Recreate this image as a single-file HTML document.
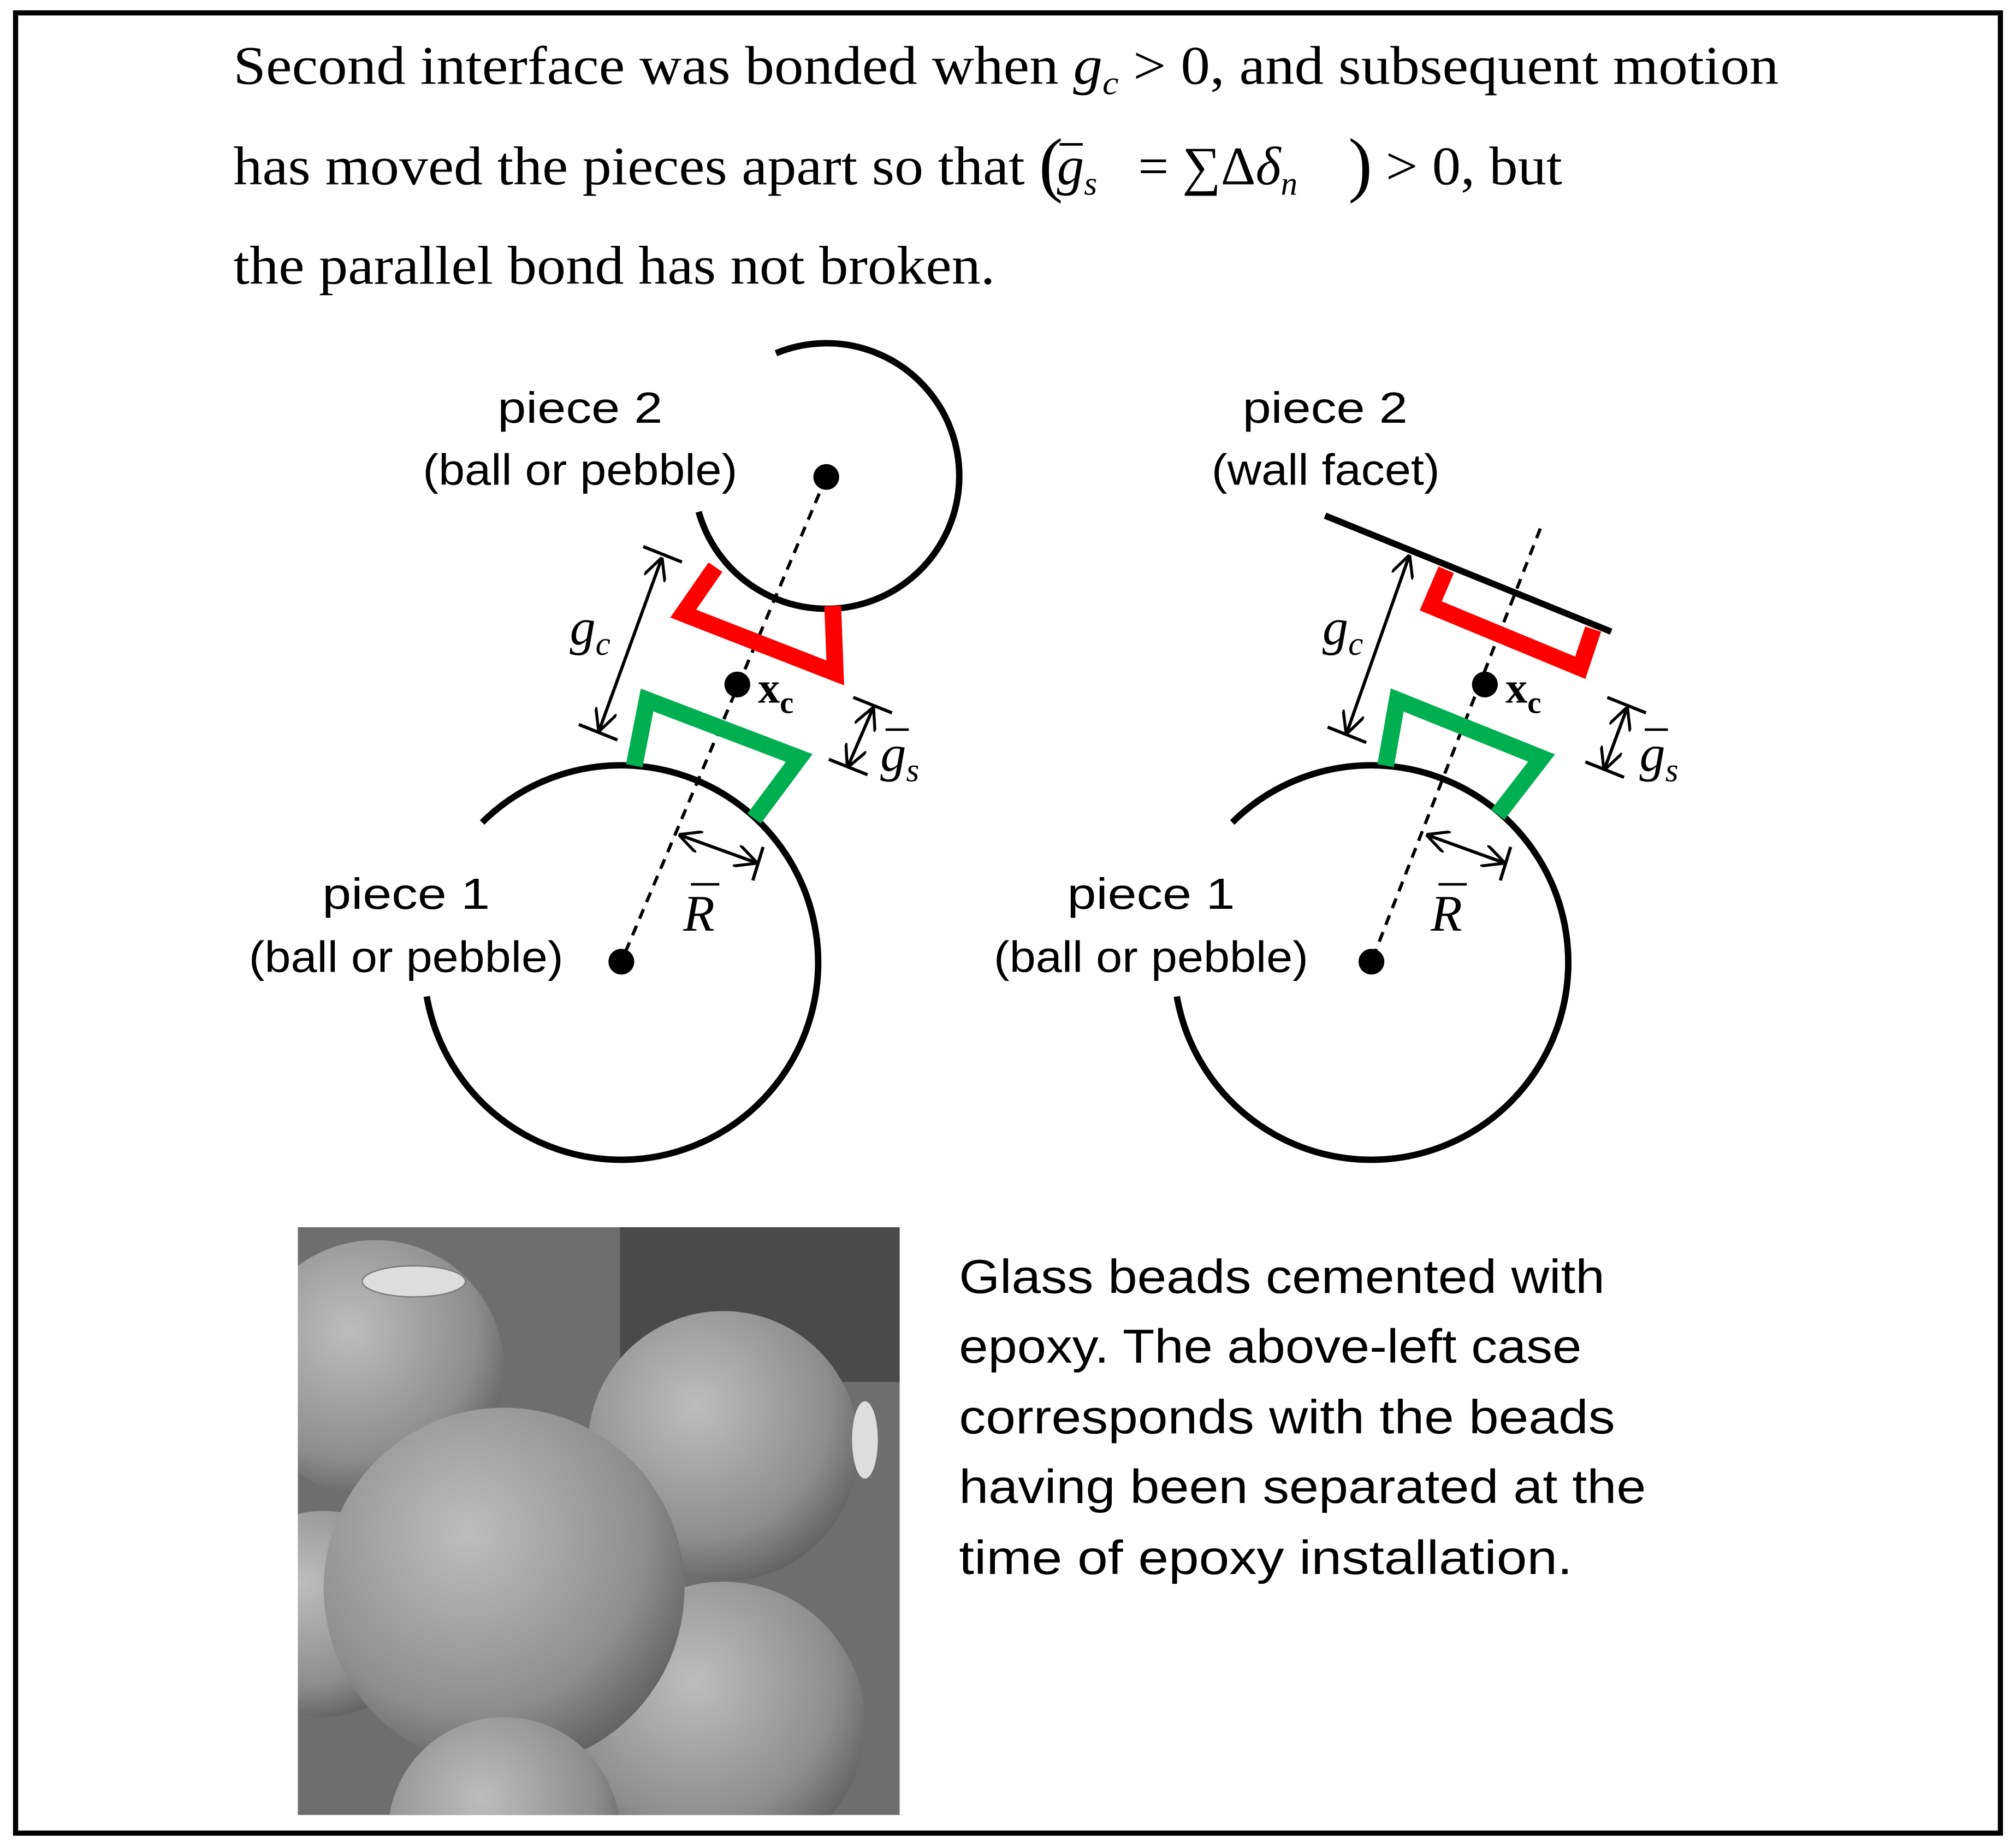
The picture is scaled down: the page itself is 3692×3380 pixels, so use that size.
<!DOCTYPE html>
<html><head><meta charset="utf-8"><style>
html,body{margin:0;padding:0;background:#fff;width:3692px;height:3380px;overflow:hidden;}
svg{display:block;}
.s{font-family:"Liberation Sans",sans-serif;}
.r{font-family:"Liberation Serif",serif;}
</style></head><body>
<svg width="3692" height="3380" viewBox="0 0 1564 1432" xmlns="http://www.w3.org/2000/svg">
<defs>
<marker id="a" viewBox="0 0 10 10" refX="9" refY="5" markerWidth="7" markerHeight="7" orient="auto-start-reverse"><path d="M0,0 L10,5 L0,10" fill="none" stroke="#000" stroke-width="1.3"/></marker>
<radialGradient id="b" cx="0.4" cy="0.35" r="0.7"><stop offset="0" stop-color="#bdbdbd"/><stop offset="0.7" stop-color="#8e8e8e"/><stop offset="1" stop-color="#5e5e5e"/></radialGradient>
</defs>
<rect x="12" y="10" width="1540" height="1412" fill="#fff" stroke="#000" stroke-width="4"/>
<g class="r" font-size="42" fill="#000">
<text x="181" y="65" textLength="1199" lengthAdjust="spacingAndGlyphs">Second interface was bonded when <tspan font-style="italic">g</tspan><tspan font-style="italic" font-size="26" dy="8">c</tspan><tspan dy="-8"> &gt; 0,  and subsequent motion</tspan></text>
<text x="181" y="143" textLength="614" lengthAdjust="spacingAndGlyphs">has moved the pieces apart so that</text>
<text x="806" y="146" font-size="56">(</text>
<text x="820" y="143" font-style="italic">g<tspan font-size="26" dy="8">s</tspan></text>
<text x="883" y="143">= ∑Δ<tspan font-style="italic">δ</tspan><tspan font-style="italic" font-size="26" dy="8">n</tspan></text>
<text x="1046" y="146" font-size="56">)</text>
<text x="1075" y="143" textLength="137" lengthAdjust="spacingAndGlyphs">&gt; 0, but</text>
<text x="181" y="220" textLength="591" lengthAdjust="spacingAndGlyphs">the parallel bond has not broken.</text>
</g>
<line x1="822" y1="112" x2="840" y2="112" stroke="#000" stroke-width="2"/>
<!-- left diagram -->
<g fill="none" stroke="#000" stroke-width="5">
<path d="M 602 274 A 103 103 0 1 1 542 397"/>
<path d="M 331 773 A 153 153 0 1 0 374 638"/>
</g>
<line x1="641" y1="370" x2="482" y2="746" stroke="#000" stroke-width="2.5" stroke-dasharray="8,6"/>
<polyline points="555,440 530,476 648,522 646,470" fill="none" stroke="#ff0000" stroke-width="13"/>
<polyline points="492,594 502,543 620,588 585,635" fill="none" stroke="#00b050" stroke-width="13"/>
<circle cx="641" cy="370" r="10"/><circle cx="482" cy="746" r="10"/><circle cx="572" cy="531" r="10"/>
<g stroke="#000" stroke-width="2.5">
<line x1="513" y1="434" x2="465" y2="566" marker-start="url(#a)" marker-end="url(#a)"/>
<line x1="499" y1="424" x2="529" y2="436"/><line x1="449" y1="562" x2="479" y2="574"/>
<line x1="677" y1="550" x2="658" y2="594" marker-start="url(#a)" marker-end="url(#a)"/>
<line x1="662" y1="541" x2="692" y2="553"/><line x1="643" y1="589" x2="673" y2="601"/>
<line x1="528" y1="648" x2="586" y2="669" marker-start="url(#a)" marker-end="url(#a)"/>
<line x1="592" y1="657" x2="584" y2="683"/>
</g>
<g class="r" font-size="40" font-style="italic">
<text x="442" y="500">g<tspan font-size="26" dy="8">c</tspan></text>
<text x="683" y="598">g<tspan font-size="26" dy="8">s</tspan></text>
<text x="530" y="722">R</text>
</g>
<line x1="687" y1="566" x2="705" y2="566" stroke="#000" stroke-width="2"/>
<line x1="536" y1="686" x2="558" y2="686" stroke="#000" stroke-width="2"/>
<text class="r" x="588" y="545" font-size="34" font-weight="bold">x<tspan font-size="24" dy="8">c</tspan></text>
<g class="s" font-size="34">
<text x="386" y="328" textLength="128" lengthAdjust="spacingAndGlyphs">piece 2</text>
<text x="328" y="376" textLength="244" lengthAdjust="spacingAndGlyphs">(ball or pebble)</text>
<text x="250" y="705" textLength="130" lengthAdjust="spacingAndGlyphs">piece 1</text>
<text x="193" y="754" textLength="244" lengthAdjust="spacingAndGlyphs">(ball or pebble)</text>
</g>
<!-- right diagram -->
<g fill="none" stroke="#000" stroke-width="5">
<path d="M 913 773 A 153 153 0 1 0 956 638"/>
<line x1="1028" y1="400" x2="1250" y2="490"/>
</g>
<line x1="1195" y1="410" x2="1064" y2="746" stroke="#000" stroke-width="2.5" stroke-dasharray="8,6"/>
<polyline points="1122,442 1110,470 1226,518 1236,488" fill="none" stroke="#ff0000" stroke-width="13"/>
<polyline points="1075,594 1084,543 1196,588 1162,632" fill="none" stroke="#00b050" stroke-width="13"/>
<circle cx="1064" cy="746" r="10"/><circle cx="1152" cy="531" r="10"/>
<g stroke="#000" stroke-width="2.5">
<line x1="1093" y1="432" x2="1045" y2="568" marker-start="url(#a)" marker-end="url(#a)"/>
<line x1="1030" y1="564" x2="1060" y2="576"/>
<line x1="1262" y1="550" x2="1245" y2="596" marker-start="url(#a)" marker-end="url(#a)"/>
<line x1="1247" y1="541" x2="1277" y2="553"/><line x1="1230" y1="591" x2="1260" y2="603"/>
<line x1="1108" y1="648" x2="1166" y2="669" marker-start="url(#a)" marker-end="url(#a)"/>
<line x1="1172" y1="657" x2="1164" y2="683"/>
</g>
<g class="r" font-size="40" font-style="italic">
<text x="1026" y="500">g<tspan font-size="26" dy="8">c</tspan></text>
<text x="1272" y="598">g<tspan font-size="26" dy="8">s</tspan></text>
<text x="1110" y="722">R</text>
</g>
<line x1="1276" y1="566" x2="1294" y2="566" stroke="#000" stroke-width="2"/>
<line x1="1116" y1="686" x2="1138" y2="686" stroke="#000" stroke-width="2"/>
<text class="r" x="1168" y="545" font-size="34" font-weight="bold">x<tspan font-size="24" dy="8">c</tspan></text>
<g class="s" font-size="34">
<text x="964" y="328" textLength="128" lengthAdjust="spacingAndGlyphs">piece 2</text>
<text x="940" y="376" textLength="177" lengthAdjust="spacingAndGlyphs">(wall facet)</text>
<text x="828" y="705" textLength="130" lengthAdjust="spacingAndGlyphs">piece 1</text>
<text x="771" y="754" textLength="244" lengthAdjust="spacingAndGlyphs">(ball or pebble)</text>
</g>
<!-- photo approximation -->
<svg x="231" y="952" width="467" height="456" viewBox="0 0 467 456">
<rect width="467" height="456" fill="#6e6e6e"/>
<rect x="250" width="217" height="120" fill="#4a4a4a"/>
<circle cx="60" cy="110" r="100" fill="url(#b)"/>
<ellipse cx="90" cy="42" rx="40" ry="12" fill="#ddd" stroke="#777"/>
<circle cx="330" cy="170" r="105" fill="url(#b)"/>
<ellipse cx="440" cy="165" rx="10" ry="30" fill="#ddd"/>
<circle cx="20" cy="300" r="80" fill="url(#b)"/>
<circle cx="330" cy="385" r="110" fill="url(#b)"/>
<circle cx="160" cy="280" r="140" fill="url(#b)"/>
<circle cx="160" cy="470" r="90" fill="url(#b)"/>
</svg>
<g class="s" font-size="37">
<text x="744" y="1003" textLength="501" lengthAdjust="spacingAndGlyphs">Glass beads cemented with</text>
<text x="744" y="1057" textLength="483" lengthAdjust="spacingAndGlyphs">epoxy. The above-left case</text>
<text x="744" y="1112" textLength="509" lengthAdjust="spacingAndGlyphs">corresponds with the beads</text>
<text x="744" y="1166" textLength="533" lengthAdjust="spacingAndGlyphs">having been separated at the</text>
<text x="744" y="1221" textLength="476" lengthAdjust="spacingAndGlyphs">time of epoxy installation.</text>
</g>
</svg>
</body></html>
